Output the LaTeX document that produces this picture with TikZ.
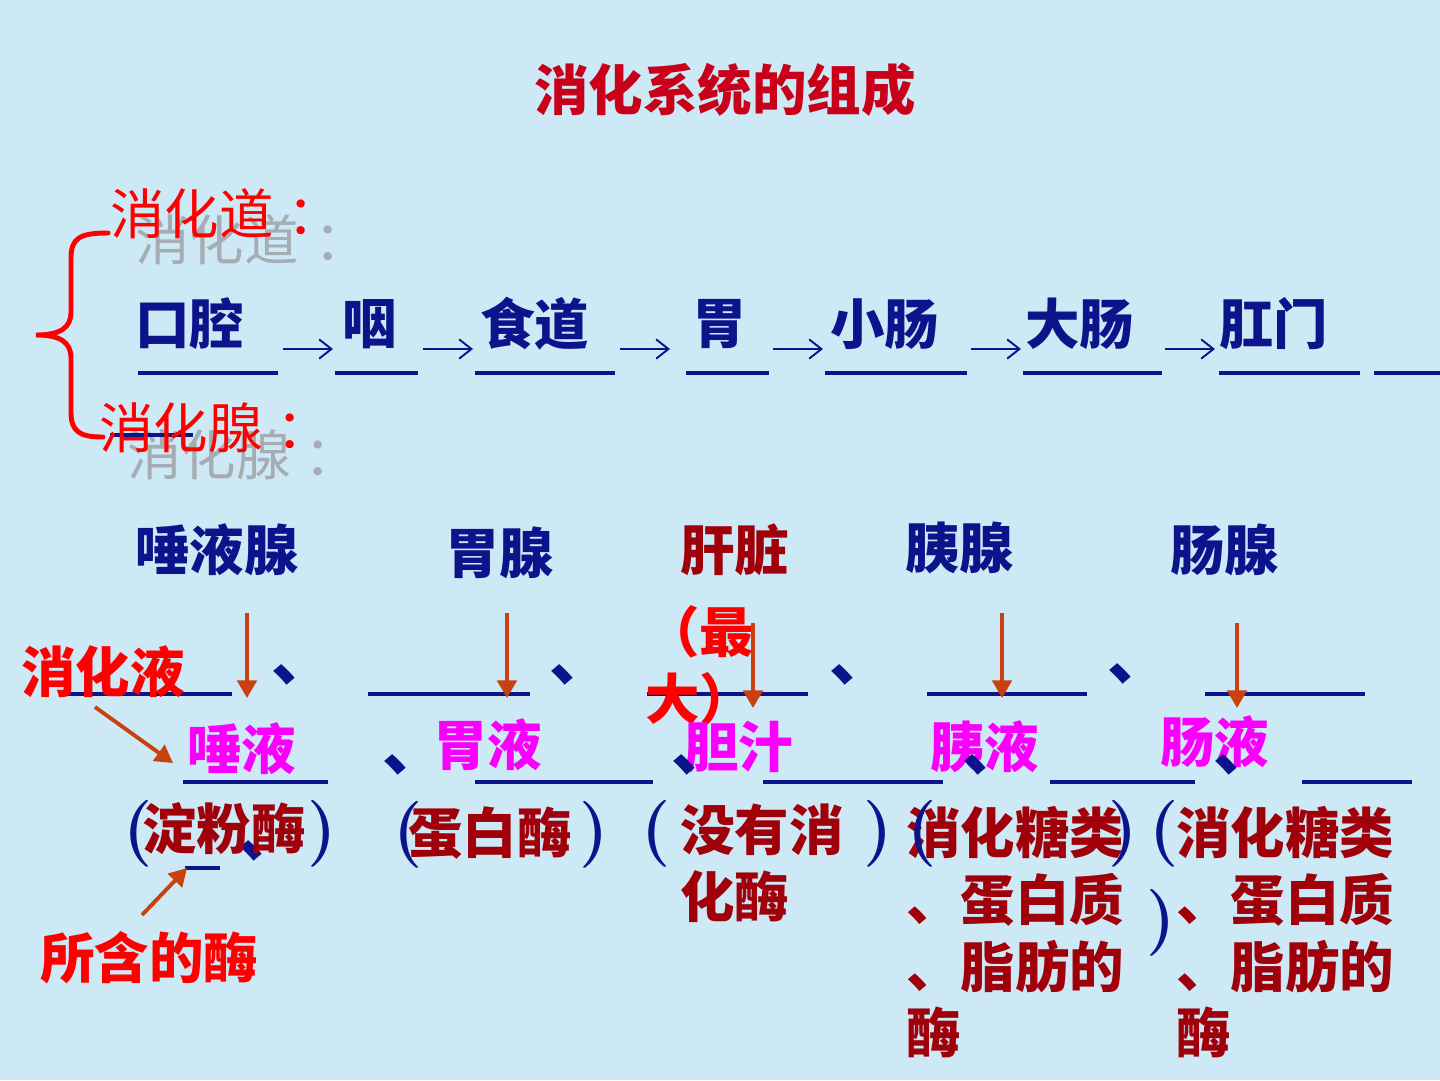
\documentclass[tikz,border=0pt]{standalone}
\usepackage{fontspec}
\newfontfamily\cjk{Noto Sans CJK SC}
\usetikzlibrary{arrows.meta}

\definecolor{bgblue}{RGB}{206,233,246}
\definecolor{navy}{RGB}{12,20,140}
\definecolor{titlered}{RGB}{200,0,25}
\definecolor{brickred}{RGB}{160,0,10}
\definecolor{rust}{RGB}{200,65,15}
\definecolor{ghost}{RGB}{165,172,178}
\definecolor{juicepink}{RGB}{250,0,250}

\begin{document}
\begin{tikzpicture}[x=0.02cm, y=-0.02cm, inner sep=0pt]
  \tikzset{
    heavy/.style={font=\cjk\fontsize{31}{38}\selectfont\bfseries},
    light/.style={font=\cjk\fontsize{31}{38}\selectfont},
    organ/.style={heavy, text=navy, anchor=west},
    juice/.style={heavy, text=juicepink, anchor=west},
    enzyme/.style={heavy, text=brickred, align=left, anchor=north west},
    blank/.style={draw=navy, line width=2.6pt},
    dun/.style={font=\cjk\fontsize{36}{38}\selectfont\bfseries, text=navy, anchor=base west},
    paren/.style={text=navy, font=\rmfamily\bfseries\fontsize{38}{38}\selectfont},
    flow/.style={draw=navy, line width=1.1pt, -{Straight Barb[length=7pt, width=11pt, line width=1.1pt]}},
    pointer/.style={draw=rust, line width=2.2pt, -{Triangle[width=11pt, length=10pt]}}}
  % ---- background and page size ----
  \fill[bgblue] (0,0) rectangle (1440,1080);
  \useasboundingbox (0,0) rectangle (1440,1080);
  % ---- title ----
  \node[heavy, text=titlered] (title) at (725,90) {消化系统的组成};
  % ---- two groups with the brace ----
  \node[light, text=ghost, anchor=west] (gdao) at (135,240) {消化道\hspace{9pt}：};
  \node[light, text=ghost, anchor=west] (gxian) at (127,455) {消化腺\hspace{8pt}：};
  \draw[navy, line width=2.4pt] (110,435) -- (193,435);
  \draw[red, line width=2.8pt, line cap=round]
    (108,233) .. controls (80,233) and (71,238) .. (71,258) -- (71,312)
    .. controls (71,328) and (60,335) .. (36,335)
    .. controls (60,335) and (71,342) .. (71,358) -- (71,412)
    .. controls (71,432) and (80,437) .. (103,437);
  \node[light, text=red, anchor=west] (dao) at (110,214) {消化道\hspace{8pt}：};
  \node[light, text=red, anchor=west] (xian) at (99,428) {消化腺\hspace{8pt}：};
  % ---- the tract, row of blanks ----
  \foreach \x/\n/\t in {135/kq/口腔, 342/yan/咽, 480/sd/食道, 692/wei/胃, 830/xc/小肠, 1025/dc/大肠, 1219/gm/肛门}
    \node[organ] (\n) at (\x,324) {\t};
  \foreach \xa/\xb in {138/278, 335/418, 475/615, 686/769, 825/967, 1023/1162, 1219/1360, 1374/1440}
    \draw[blank] (\xa,373) -- (\xb,373);
  \foreach \x [count=\i] in {308, 448, 645, 798, 996, 1190} {
    \coordinate (ta\i) at (\x-25,349);
    \coordinate (tb\i) at (\x+25,349);
    \draw[flow] (ta\i) -- (tb\i);
  }
  % ---- the glands ----
  \node[organ] (tyx) at (135,550) {唾液腺};
  \node[organ] (wx) at (445,553) {胃腺};
  \node[organ, text=brickred] (gz) at (680,550) {肝脏};
  \node[organ] (yx) at (905,548) {胰腺};
  \node[organ] (cx) at (1170,550) {肠腺};
  \foreach \xa/\xb in {68/232, 368/530, 647/808, 927/1087, 1205/1365}
    \draw[blank] (\xa,694) -- (\xb,694);
  \foreach \x/\y [count=\i] in {288/672, 566/672, 846/672, 1124/671}
    \node[dun] (da\i) at (\x-17,\y+8) {、};
  \node[heavy, text=red, anchor=west] (xhy) at (21,672) {消化液};
  \node[heavy, text=red, align=left, anchor=north west] (zd) at (645,605) {（最\\大）};
  \foreach \x/\ya/\yb [count=\i] in {247/613/698, 507/613/698, 753/623/708, 1002/613/698, 1237/623/708} {
    \coordinate (s\i) at (\x,\ya);
    \coordinate (e\i) at (\x,\yb);
    \draw[pointer] (s\i) -- (e\i);
  }
  % ---- the juices ----
  \node[juice] (ty) at (187,749) {唾液};
  \node[juice] (wy) at (433,745) {胃液};
  \node[juice] (dz) at (684,747) {胆汁};
  \node[juice] (yy) at (930,747) {胰液};
  \node[juice] (cy) at (1160,742) {肠液};
  \foreach \xa/\xb in {183/328, 475/653, 763/943, 1050/1195, 1302/1412}
    \draw[blank] (\xa,782) -- (\xb,782);
  \foreach \x/\y [count=\i] in {399/762, 688/762, 979/762, 1230/762}
    \node[dun] (db\i) at (\x-17,\y+8) {、};
  \coordinate (xhyend) at (173,763);
  \draw[pointer] (95,707) -- (xhyend);
  % ---- the enzymes ----
  \draw[navy, line width=2.4pt] (185,868) -- (220,868);
  \node[dun] (dc) at (238,856) {、};
  \node[enzyme, anchor=west] (df) at (142,829) {淀粉酶};
  \node[enzyme, anchor=west] (dbm) at (408,833) {蛋白酶};
  \node[enzyme] (mei1) at (680,804) {没有消\\化酶};
  \node[enzyme] (mei2) at (906,806) {消化糖类\\、蛋白质\\、脂肪的\\酶};
  \node[enzyme] (mei3) at (1176,806) {消化糖类\\、蛋白质\\、脂肪的\\酶};
  \foreach \x/\y/\p [count=\i] in {138/834/(, 322/834/), 408/835/(, 594/835/), 656/834/(, 878/834/), 922/834/(, 1123/834/), 1164/834/(, 1161/923/)}
    \node[paren] (p\i) at (\x,\y) {\p};
  \node[heavy, text=red, anchor=west] (shm) at (40,958) {所含的酶};
  \coordinate (shmend) at (187,868);
  \draw[pointer] (142,915) -- (shmend);
\end{tikzpicture}
\end{document}
